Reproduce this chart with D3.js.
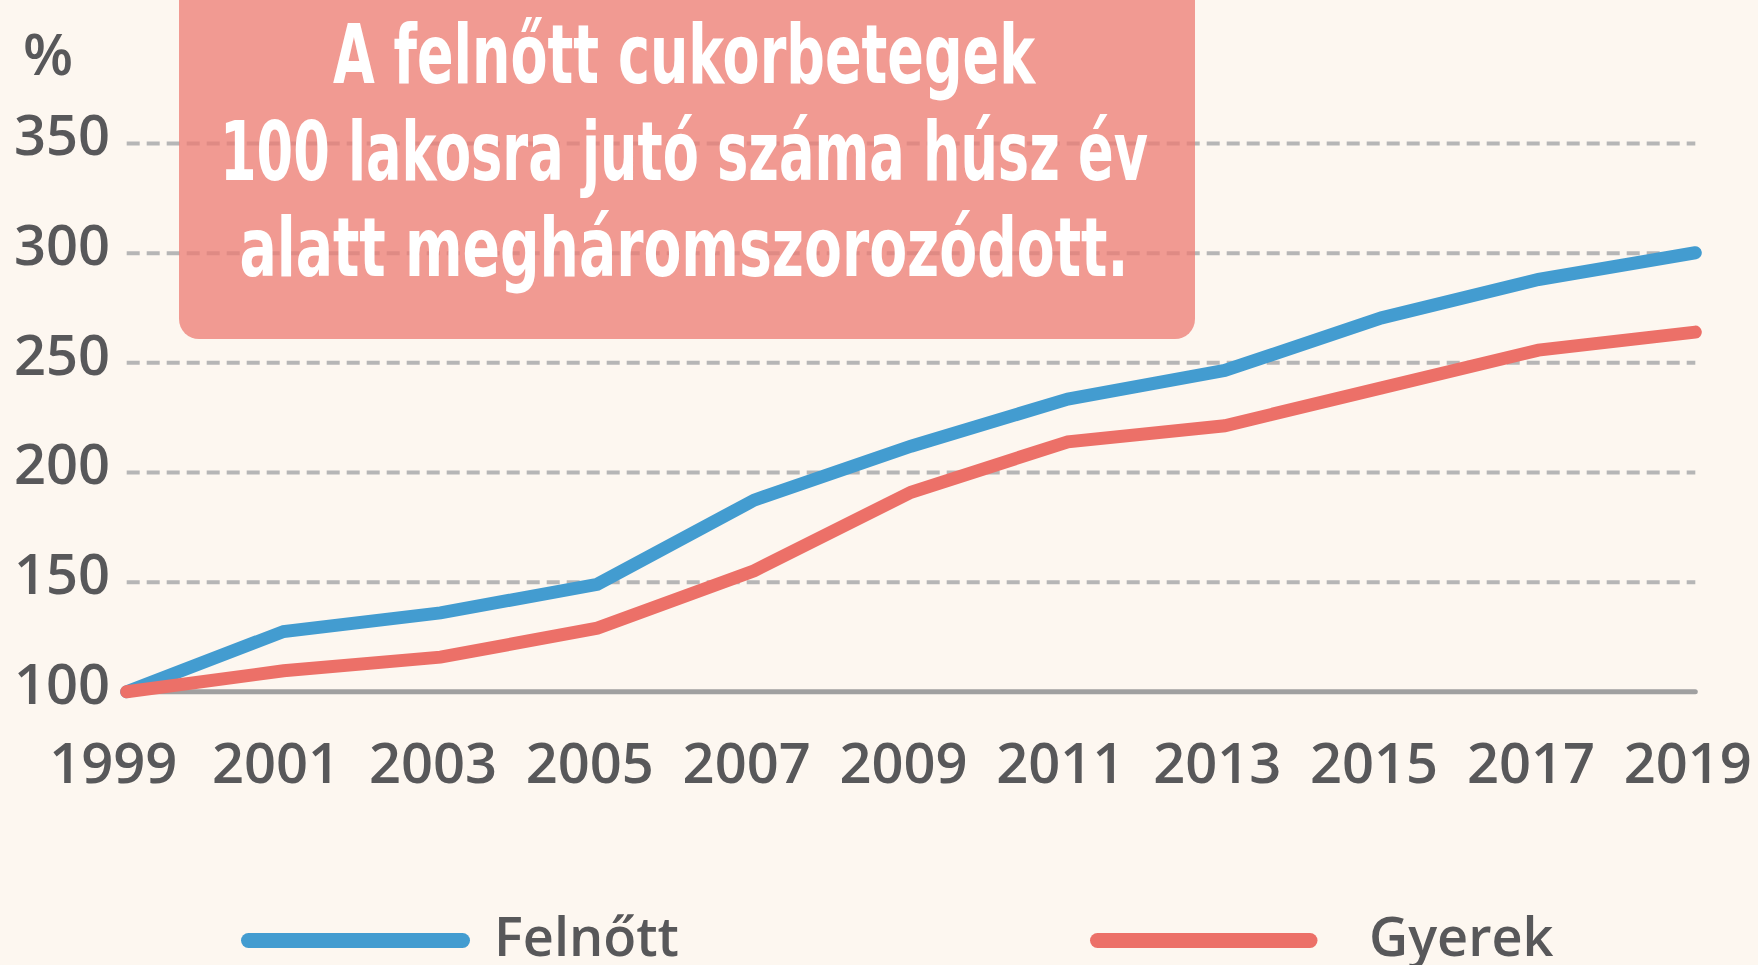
<!DOCTYPE html>
<html>
<head>
<meta charset="utf-8">
<script src="https://cdn.jsdelivr.net/npm/d3@7"></script>
<style>
  html, body { margin: 0; padding: 0; background: #fdf7f0; }
  svg { display: block; }
</style>
</head>
<body>
<div id="chart"></div>
<script>
const width = 1758,
    height = 965;

// data
const years = [1999, 2001, 2003, 2005, 2007, 2009, 2011, 2013, 2015, 2017, 2019];
const felnott = [100, 127.5, 136, 149, 187.4, 212, 233.5, 246.5, 270.5, 288, 300.2];
const gyerek = [100, 109.6, 115.8, 129, 155.2, 191, 214, 221.3, 238.6, 255.8, 264];
const yTicks = [100, 150, 200, 250, 300, 350];
const titleLines = ["A felnőtt cukorbetegek", "100 lakosra jutó száma húsz év", "alatt  megháromszorozódott."];
const seriesNames = ["Felnőtt", "Gyerek"];

const blue = "#439cd0",
    red = "#ec7068",
    textColor = "#58585a";

const svg = d3.select("#chart")
    .append("svg")
    .attr("width", width)
    .attr("height", height)
    .attr("viewBox", [0, 0, width, height]);

svg.append("rect")
    .attr("width", width)
    .attr("height", height)
    .attr("fill", "#fdf7f0");

let x = d3.scaleLinear()
    .domain([1999, 2019])
    .range([126.7, 1695.3]);

let y = d3.scaleLinear()
    .domain([100, 350])
    .range([691.8, 143.5]);

// dashed gridlines
svg.append("g")
    .selectAll("line")
    .data(yTicks.filter(d => d > 100))
    .join("line")
    .attr("x1", x(1999))
    .attr("x2", x(2019))
    .attr("y1", d => y(d))
    .attr("y2", d => y(d))
    .attr("stroke", "#b6b6b6")
    .attr("stroke-width", 4)
    .attr("stroke-dasharray", "13,7");

// solid baseline at 100
svg.append("line")
    .attr("x1", x(1999))
    .attr("x2", x(2019))
    .attr("y1", y(100))
    .attr("y2", y(100))
    .attr("stroke", "#a0a0a0")
    .attr("stroke-width", 5)
    .attr("stroke-linecap", "round");

// y axis labels
svg.append("g")
    .attr("transform", "translate(110,0)")
    .call(d3.axisLeft(y).tickValues(yTicks).tickSize(0).tickPadding(0))
    .call(g => g.select(".domain").remove())
    .selectAll("text")
    .attr("dy", "0.2em")
    .attr("fill", textColor)
    .style("font-family", "'Open Sans', sans-serif")
    .style("font-weight", 600)
    .style("font-size", "56px");

svg.append("text")
    .attr("x", 23)
    .attr("y", 75)
    .attr("fill", textColor)
    .style("font-family", "'Open Sans', sans-serif")
    .style("font-weight", 600)
    .style("font-size", "58px")
    .text("%");

// x axis labels
svg.append("g")
    .attr("transform", "translate(0,783)")
    .call(d3.axisBottom(x).tickValues(years).tickFormat(d3.format("d")).tickSize(0).tickPadding(0))
    .call(g => g.select(".domain").remove())
    .selectAll("text")
    .attr("y", 0)
    .attr("dy", 0)
    .attr("dx", d => d === 1999 ? -14 : -8)
    .attr("fill", textColor)
    .style("font-family", "'Open Sans', sans-serif")
    .style("font-weight", 600)
    .style("font-size", "56px");

// title box (semi transparent, gridlines show through)
svg.append("rect")
    .attr("x", 179)
    .attr("y", -40)
    .attr("width", 1016)
    .attr("height", 379)
    .attr("rx", 20)
    .attr("fill", "rgb(236,123,115)")
    .attr("fill-opacity", 0.75);

const titleBase = [83, 180, 276],
    titleWidth = [702, 928, 889];

svg.append("g")
    .selectAll("text")
    .data(titleLines)
    .join("text")
    .attr("x", 684)
    .attr("y", (d, i) => titleBase[i])
    .attr("text-anchor", "middle")
    .attr("textLength", (d, i) => titleWidth[i])
    .attr("lengthAdjust", "spacingAndGlyphs")
    .attr("fill", "#ffffff")
    .style("font-family", "'Liberation Sans Narrow', 'DejaVu Sans Condensed', sans-serif")
    .style("font-weight", 700)
    .style("font-size", "82px")
    .text(d => d);

// lines
let line = d3.line()
    .x((d, i) => x(years[i]))
    .y(d => y(d));

svg.append("path")
    .datum(felnott)
    .attr("d", line)
    .attr("fill", "none")
    .attr("stroke", blue)
    .attr("stroke-width", 13)
    .attr("stroke-linecap", "round")
    .attr("stroke-linejoin", "miter");

svg.append("path")
    .datum(gyerek)
    .attr("d", line)
    .attr("fill", "none")
    .attr("stroke", red)
    .attr("stroke-width", 13)
    .attr("stroke-linecap", "round")
    .attr("stroke-linejoin", "miter");

// legend
const legend = [
    { name: seriesNames[0], color: blue, x1: 248.5, x2: 462.5, tx: 494 },
    { name: seriesNames[1], color: red, x1: 1097.5, x2: 1310, tx: 1369 }
];

const lg = svg.append("g")
    .selectAll("g")
    .data(legend)
    .join("g");

lg.append("line")
    .attr("x1", d => d.x1)
    .attr("x2", d => d.x2)
    .attr("y1", 940.5)
    .attr("y2", 940.5)
    .attr("stroke", d => d.color)
    .attr("stroke-width", 15)
    .attr("stroke-linecap", "round");

lg.append("text")
    .attr("x", d => d.tx)
    .attr("y", 956)
    .attr("fill", textColor)
    .style("font-family", "'Open Sans', sans-serif")
    .style("font-weight", 600)
    .style("font-size", "54px")
    .text(d => d.name);
</script>
</body>
</html>
